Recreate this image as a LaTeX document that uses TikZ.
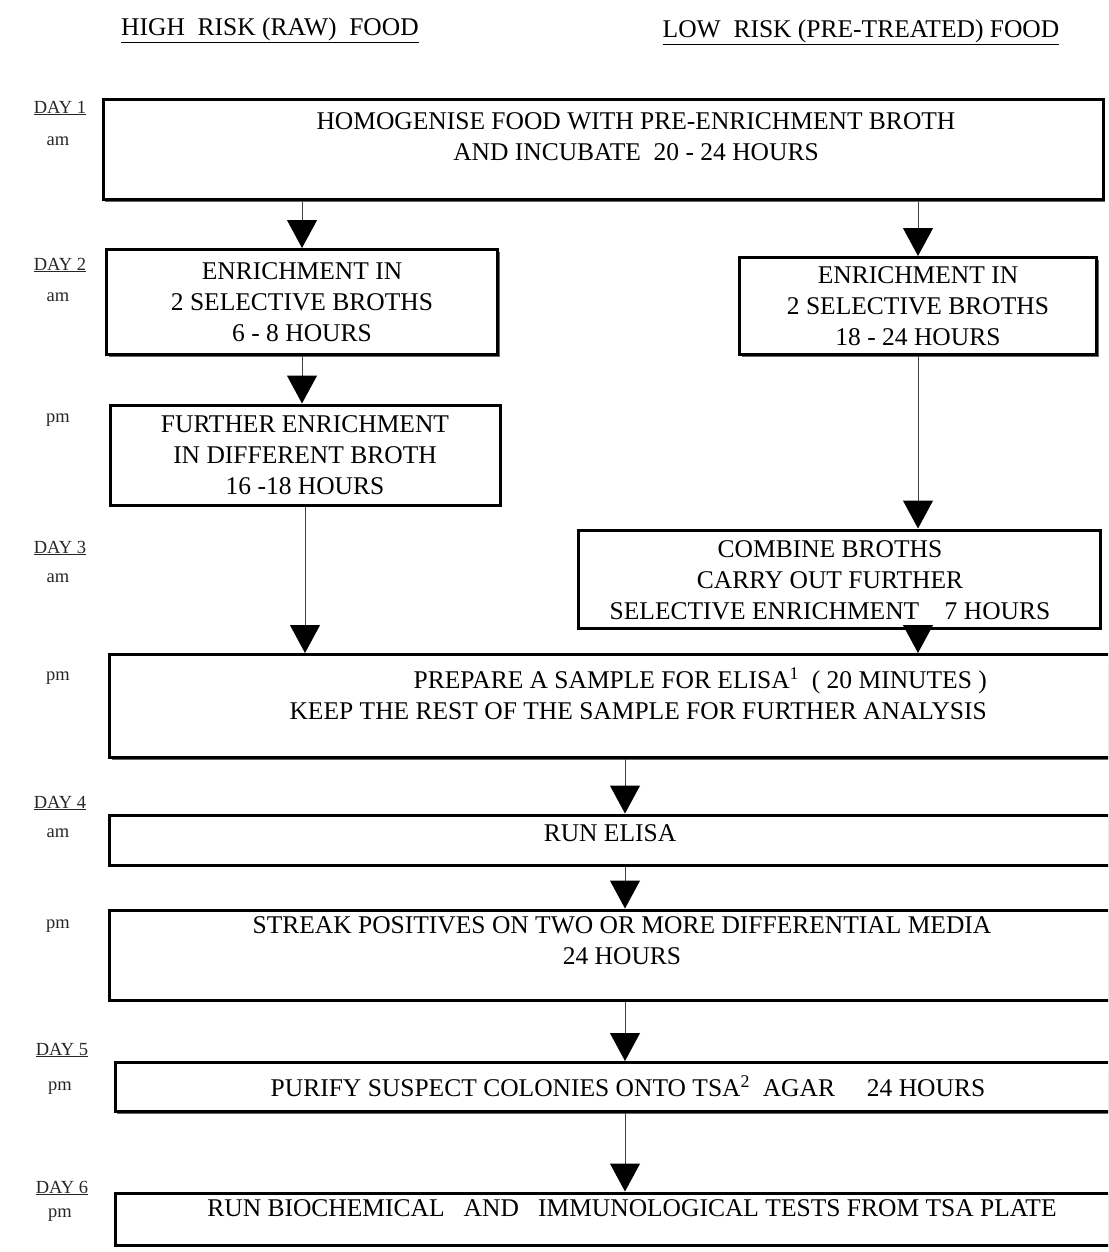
\documentclass[tikz,border=0pt]{standalone}
\usepackage{fontspec}
\setmainfont{Liberation Serif}
\usetikzlibrary{arrows.meta,shadows}

\tikzset{
	stage/.style={draw, line width=3pt, fill=white, inner sep=0pt, align=center,
		font=\fontsize{25.5}{31}\selectfont,
		drop shadow={shadow xshift=2pt, shadow yshift=-2pt, fill=black!60, opacity=1}},
	txt/.style={align=center, inner sep=0pt, font=\fontsize{25.5}{31}\selectfont},
	daylbl/.style={inner sep=0pt, text=black!85, font=\fontsize{18.5}{20}\selectfont},
	flow/.style={draw=black!75, line width=1pt, -{Triangle[length=28pt, width=30pt, color=black]}}
}

\begin{document}
\begin{tikzpicture}[x=1pt, y=-1pt]
			\useasboundingbox (0,0) rectangle (1108,1252);
			\clip (0,0) rectangle (1108,1252);
			
			% column headings
			\node[txt] (high) at (270,30) {\underline{HIGH~~RISK (RAW)~~FOOD}};
			\node[txt] (low) at (861,32) {\underline{LOW~~RISK (PRE-TREATED) FOOD}};
			
			% days
			\node[daylbl] (day1) at (60,108) {\underline{DAY 1}};
			\node[daylbl] (am1) at (58,141) {am};
			\node[daylbl] (day2) at (60,265) {\underline{DAY 2}};
			\node[daylbl] (am2) at (58,297) {am};
			\node[daylbl] (pm2) at (58,420) {pm};
			\node[daylbl] (day3) at (60,548) {\underline{DAY 3}};
			\node[daylbl] (am3) at (58,578) {am};
			\node[daylbl] (pm3) at (58,678) {pm};
			\node[daylbl] (day4) at (60,803) {\underline{DAY 4}};
			\node[daylbl] (am4) at (58,833) {am};
			\node[daylbl] (pm4) at (58,926) {pm};
			\node[daylbl] (day5) at (62,1050) {\underline{DAY 5}};
			\node[daylbl] (pm5) at (60,1088) {pm};
			\node[daylbl] (day6) at (62,1188) {\underline{DAY 6}};
			\node[daylbl] (pm6) at (60,1215) {pm};
			
			% boxes
			\node[stage, minimum width=1000pt, minimum height=100pt] (box1) at (603,150) {};
			\node[stage, minimum width=391pt, minimum height=105pt] (box2L) at (302,302)
				{ENRICHMENT IN\\2 SELECTIVE BROTHS\\6 - 8 HOURS};
			\node[stage, minimum width=357pt, minimum height=97pt] (box2R) at (918,306)
				{ENRICHMENT IN\\2 SELECTIVE BROTHS\\18 - 24 HOURS};
			\node[stage, minimum width=390pt, minimum height=100pt] (box3L) at (305,455)
				{FURTHER ENRICHMENT\\IN DIFFERENT BROTH\\16 -18 HOURS};
			\node[stage, minimum width=522pt, minimum height=98pt] (box3R) at (839,579) {};
			\node[stage, minimum width=1005pt, minimum height=103pt] (box4) at (612,706) {};
			\node[stage, minimum width=1005pt, minimum height=50pt] (box5) at (612,840) {};
			\node[stage, minimum width=1005pt, minimum height=90pt] (box6) at (612,955) {};
			\node[stage, minimum width=1000pt, minimum height=49pt] (box7) at (615,1087) {};
			\node[stage, minimum width=1000pt, minimum height=52pt] (box8) at (615,1219) {};
			
			% box texts
			\node[txt] (t1) at (636,137) {HOMOGENISE FOOD WITH PRE-ENRICHMENT BROTH\\AND INCUBATE~~20 - 24 HOURS};
			\node[txt] (t3R) at (830,580) {COMBINE BROTHS\\CARRY OUT FURTHER\\SELECTIVE ENRICHMENT~~~~7 HOURS};
			\node[txt, align=right, anchor=east] (t4) at (987,694)
				{PREPARE A SAMPLE FOR ELISA\textsuperscript{1}~~( 20 MINUTES )\\KEEP THE REST OF THE SAMPLE FOR FURTHER ANALYSIS};
			\node[txt] (t5) at (610,833) {RUN ELISA};
			\node[txt] (t6) at (622,941) {STREAK POSITIVES ON TWO OR MORE DIFFERENTIAL MEDIA\\24 HOURS};
			\node[txt] (t7) at (628,1086) {PURIFY SUSPECT COLONIES ONTO TSA\textsuperscript{2}~~AGAR~~~~~24 HOURS};
			\node[txt] (t8) at (632,1208) {RUN BIOCHEMICAL~~~AND~~~IMMUNOLOGICAL TESTS FROM TSA PLATE};
			
			% arrows
			\coordinate (spine) at (625,0);
			\draw[flow] (box1.south -| box2L.north) -- (box2L.north);
			\draw[flow] (box1.south -| box2R.north) -- (box2R.north);
			\draw[flow] (box2L.south) -- (box2L.south |- box3L.north);
			\draw[flow] (box2R.south) -- (box2R.south |- box3R.north);
			\draw[flow] (box3L.south) -- (box3L.south |- box4.north);
			\draw[flow] (box3R.south -| box2R.south) -- (box2R.south |- box4.north);
			\draw[flow] (box4.south -| spine) -- (box5.north -| spine);
			\draw[flow] (box5.south -| spine) -- (box6.north -| spine);
			\draw[flow] (box6.south -| spine) -- (box7.north -| spine);
			\draw[flow] (box7.south -| spine) -- (box8.north -| spine);
		\end{tikzpicture}
\end{document}
